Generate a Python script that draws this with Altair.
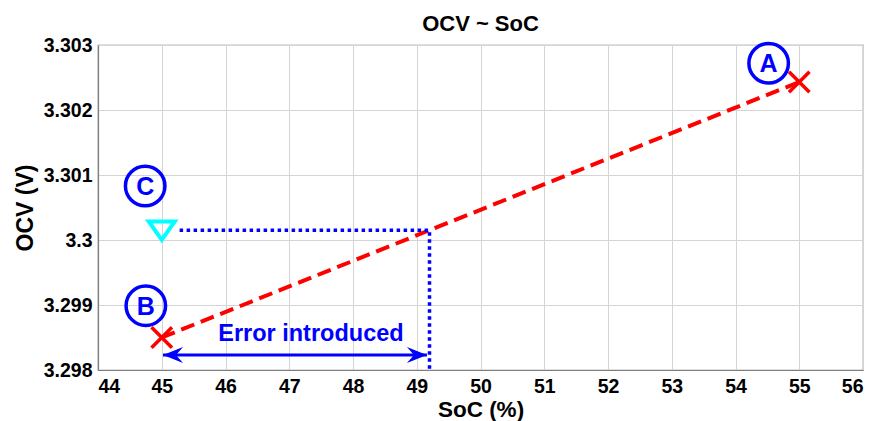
import altair as alt
import pandas as pd

# ---- data ----
ocv_soc = [45.0, 55.0]
ocv_val = [3.2985, 3.30243]

point_c_soc = [45.0]
point_c_ocv = [3.30015]

proj_soc = [45.28, 49.2, 49.2]
proj_ocv = [3.30015, 3.30015, 3.298]

arrow_soc = [45.02, 49.16]
arrow_ocv = [3.29823, 3.29823]
arrow_angle = [180, 0]

err_text = ["Error introduced"]
err_soc = [47.34]
err_ocv = [3.29855]

circ_labels = ["A", "B", "C"]
circ_soc = [54.52, 44.75, 44.74]
circ_ocv = [3.30272, 3.29899, 3.30083]

x_ticks = list(range(44, 57))
y_ticks = [3.298, 3.299, 3.300, 3.301, 3.302, 3.303]

FONT = "Liberation Sans"
BLUE = "#0000ff"
RED = "#ff0000"
CYAN = "#00ffff"

xs = alt.Scale(domain=[44, 56], nice=False, zero=False)
ys = alt.Scale(domain=[3.298, 3.303], nice=False, zero=False)

x_axis = alt.Axis(values=x_ticks, title="SoC (%)", ticks=False, labelPadding=7,
                  titleX=382.5, titleY=39.5, titleBaseline="middle", titleAlign="center",
                  labelFontSize=19.5, titleFontSize=22.5)
y_axis = alt.Axis(values=y_ticks, title="OCV (V)", ticks=False, labelPadding=6,
                  format=".4~f", titleX=-73, titleY=162.5, titleAngle=-90,
                  titleBaseline="middle", titleAlign="center",
                  labelFontSize=19.5, titleFontSize=23)


def X(field):
    return alt.X(field, type="quantitative", scale=xs, axis=x_axis)


def Y(field):
    return alt.Y(field, type="quantitative", scale=ys, axis=y_axis)


df_line = pd.DataFrame({"soc": ocv_soc, "ocv": ocv_val})
df_c = pd.DataFrame({"soc": point_c_soc, "ocv": point_c_ocv})
df_proj = pd.DataFrame({"soc": proj_soc, "ocv": proj_ocv, "o": list(range(len(proj_soc)))})
df_arrow = pd.DataFrame({"soc": arrow_soc, "ocv": arrow_ocv, "ang": arrow_angle})
df_err = pd.DataFrame({"soc": err_soc, "ocv": err_ocv, "t": err_text})
df_circ = pd.DataFrame({"soc": circ_soc, "ocv": circ_ocv, "t": circ_labels})

red_line = alt.Chart(df_line).mark_line(color=RED, strokeWidth=4, strokeDash=[14, 7]).encode(
    x=X("soc"), y=Y("ocv"))

proj = alt.Chart(df_proj).mark_line(color=BLUE, strokeWidth=3.5, strokeDash=[3.5, 3.5]).encode(
    x=X("soc"), y=Y("ocv"), order="o:Q")

arrow_line = alt.Chart(df_arrow).mark_line(color=BLUE, strokeWidth=3).encode(
    x=X("soc"), y=Y("ocv"))

arrow_heads = alt.Chart(df_arrow).mark_point(
    shape="M0,0L-2,-0.8L-1.3,0L-2,0.8Z", filled=True, color=BLUE, size=400, opacity=1
).encode(x=X("soc"), y=Y("ocv"), angle=alt.Angle("ang:Q", scale=None))

crosses = alt.Chart(df_line).mark_point(
    shape="M-1,-1L1,1M-1,1L1,-1", filled=False, color=RED, size=420, strokeWidth=3.5, opacity=1
).encode(x=X("soc"), y=Y("ocv"))

tri = alt.Chart(df_c).mark_point(
    shape="M-1,-0.68L1,-0.68L0,0.74Z", filled=False, color=CYAN, size=676, strokeWidth=4, opacity=1
).encode(x=X("soc"), y=Y("ocv"))

err = alt.Chart(df_err).mark_text(
    color=BLUE, font=FONT, fontWeight="bold", fontSize=23.5, baseline="middle", align="center"
).encode(x=X("soc"), y=Y("ocv"), text="t:N")

circles = alt.Chart(df_circ).mark_point(
    shape="circle", filled=False, color=BLUE, size=1560, strokeWidth=3.5, opacity=1
).encode(x=X("soc"), y=Y("ocv"))

circ_text = alt.Chart(df_circ).mark_text(
    color=BLUE, font=FONT, fontWeight="bold", fontSize=25, baseline="middle", align="center", dy=1
).encode(x=X("soc"), y=Y("ocv"), text="t:N")

chart = alt.layer(
    red_line, proj, arrow_line, arrow_heads, crosses, tri, err, circles, circ_text
).properties(
    width=765, height=325,
    title=alt.TitleParams("OCV ~ SoC", font=FONT, fontSize=22, fontWeight="bold",
                          color="black", offset=15, anchor="middle", frame="group", dy=16),
    padding={"left": 90, "top": 37, "right": 4, "bottom": 51},
    autosize=alt.AutoSizeParams(type="none"),
).configure_axis(
    labelFont=FONT, labelFontWeight="bold", labelColor="black",
    titleFont=FONT, titleFontWeight="bold", titleColor="black",
    grid=True, gridColor="#d4d4d4", gridWidth=1,
    domainColor="#7f7f7f", domainWidth=1.2,
).configure_view(
    stroke="#7f7f7f", strokeWidth=1.2
)

chart.save("out.html", embed_options={"renderer": "svg", "actions": False})
